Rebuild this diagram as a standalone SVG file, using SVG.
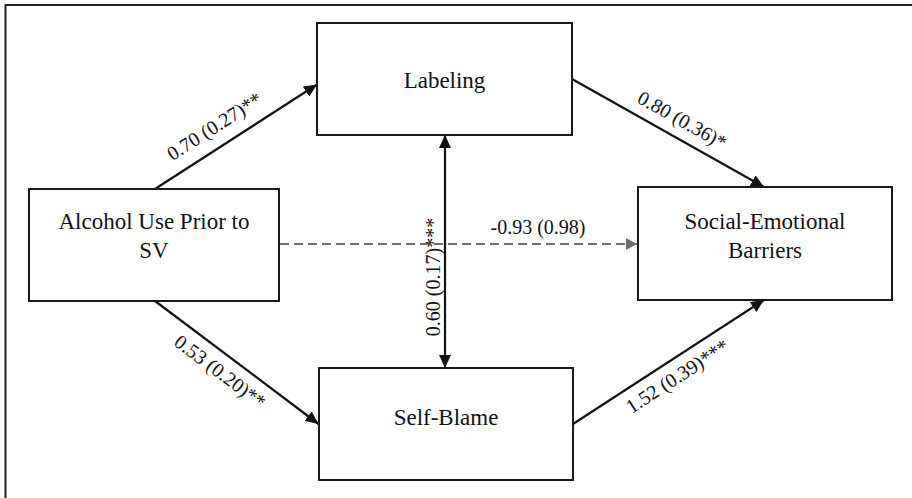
<svg xmlns="http://www.w3.org/2000/svg" width="912" height="498" viewBox="0 0 912 498">
  <style>
    .box { fill: #ffffff; stroke: #1a1a1a; stroke-width: 2; }
    .node { font-family: "Liberation Serif", "Times New Roman", serif; font-size: 23px; fill: #111111; text-anchor: middle; }
    .lbl { font-family: "Liberation Serif", "Times New Roman", serif; font-size: 20px; fill: #111111; text-anchor: middle; }
    .edge { fill: none; stroke: #111111; stroke-width: 2.2; }
    .dash { fill: none; stroke: #6e6e6e; stroke-width: 2.2; stroke-dasharray: 9 5; }
  </style>
  <defs>
    <marker id="arrow" markerUnits="userSpaceOnUse" markerWidth="14" markerHeight="12" refX="13" refY="6" orient="auto-start-reverse" viewBox="0 0 14 12">
      <path d="M0,0 L13,6 L0,12 z" fill="#111111"/>
    </marker>
    <marker id="arrowGray" markerUnits="userSpaceOnUse" markerWidth="12" markerHeight="12" refX="11" refY="6" orient="auto" viewBox="0 0 12 12">
      <path d="M0,0 L11,6 L0,12 z" fill="#6e6e6e"/>
    </marker>
  </defs>
  <rect x="0" y="0" width="912" height="498" fill="#ffffff"/>
  <path d="M5.5,498 V5 H912" fill="none" stroke="#222222" stroke-width="2"/>

  <g id="connectors">
    <line class="edge" x1="155" y1="189" x2="317" y2="84.5" marker-end="url(#arrow)"/>
    <line class="edge" x1="572" y1="79" x2="764" y2="187" marker-end="url(#arrow)"/>
    <line class="edge" x1="155" y1="301" x2="318.5" y2="424" marker-end="url(#arrow)"/>
    <line class="edge" x1="573" y1="424" x2="764" y2="300" marker-end="url(#arrow)"/>
    <line class="edge" x1="445" y1="135" x2="445" y2="368" marker-start="url(#arrow)" marker-end="url(#arrow)"/>
    <line class="dash" x1="280" y1="244" x2="637" y2="244" marker-end="url(#arrowGray)"/>
    <text class="lbl" transform="translate(218,132) rotate(-32.7)">0.70 (0.27)**</text>
    <text class="lbl" transform="translate(679,126) rotate(29.2)">0.80 (0.36)*</text>
    <text class="lbl" transform="translate(216,377) rotate(37)">0.53 (0.20)**</text>
    <text class="lbl" transform="translate(681,382) rotate(-33)">1.52 (0.39)***</text>
    <text class="lbl" transform="translate(440,277) rotate(-90)">0.60 (0.17)***</text>
    <text class="lbl" x="538" y="234">-0.93 (0.98)</text>
  </g>

  <g id="node-alcohol">
    <rect class="box" x="29" y="189" width="250" height="112"/>
    <text class="node" x="154" y="229">Alcohol Use Prior to</text>
    <text class="node" x="154" y="258">SV</text>
  </g>
  <g id="node-labeling">
    <rect class="box" x="317" y="23" width="255" height="112"/>
    <text class="node" x="444.5" y="88">Labeling</text>
  </g>
  <g id="node-selfblame">
    <rect class="box" x="319" y="368" width="254" height="112"/>
    <text class="node" x="446" y="425">Self-Blame</text>
  </g>
  <g id="node-social">
    <rect class="box" x="638" y="187" width="254" height="113"/>
    <text class="node" x="765" y="229">Social-Emotional</text>
    <text class="node" x="765" y="258">Barriers</text>
  </g>
</svg>
